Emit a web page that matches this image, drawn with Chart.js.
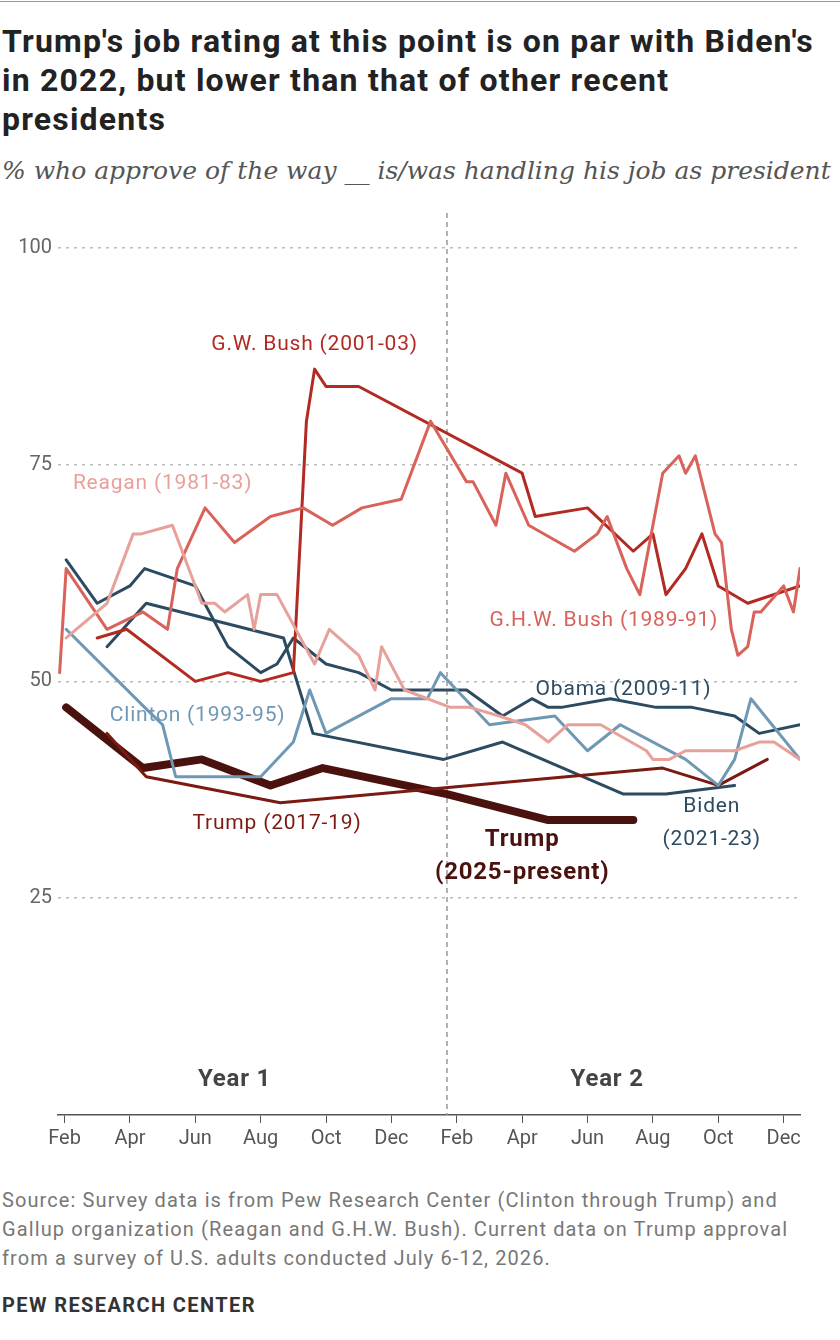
<!DOCTYPE html>
<html lang="en">
<head>
<meta charset="UTF-8">
<title>Presidential job approval</title>
<script src="https://cdn.jsdelivr.net/npm/chart.js"></script>
<style>
  body { margin: 0; background: #fff; font-family: Roboto, "Liberation Sans", sans-serif; width: 840px; height: 1340px; position: relative; overflow: hidden; }
  .rule { position: absolute; top: 1px; left: 0; width: 840px; border-top: 1px solid #999; }
  h1 { position: absolute; top: 22px; left: 2px; margin: 0; font-size: 32px; letter-spacing: 1.2px; line-height: 39px; font-weight: 700; color: #222; white-space: nowrap; }
  .sub { position: absolute; top: 156px; left: 2px; font-family: "DejaVu Serif", serif; font-style: italic; font-size: 25px; color: #555; white-space: nowrap; }
  #wrap { position: absolute; top: 195px; left: 0; width: 840px; height: 970px; }
  .src { position: absolute; top: 1186px; left: 2px; font-size: 20px; letter-spacing: 1.1px; line-height: 29px; color: #777; white-space: nowrap; }
  .pew { position: absolute; top: 1293px; left: 2px; font-size: 20px; font-weight: 700; color: #333; letter-spacing: 1.4px; }
</style>
</head>
<body>
<div class="rule"></div>
<h1>Trump's job rating at this point is on par with Biden's<br>in 2022, but lower than that of other recent<br>presidents</h1>
<div class="sub">% who approve of the way __ is/was handling his job as president</div>
<div id="wrap"><canvas id="chart"></canvas></div>
<div class="src">Source: Survey data is from Pew Research Center (Clinton through Trump) and<br>Gallup organization (Reagan and G.H.W. Bush). Current data on Trump approval<br>from a survey of U.S. adults conducted July 6-12, 2026.</div>
<div class="pew">PEW RESEARCH CENTER</div>
<script>
// x = months since February of year 1
const monthLabels = ['Feb', 'Apr', 'Jun', 'Aug', 'Oct', 'Dec', 'Feb', 'Apr', 'Jun', 'Aug', 'Oct', 'Dec'];
const yTicks = [25, 50, 75, 100];

const reaganX = [0.05, 1.3, 2.1, 2.35, 3.3, 4.2, 4.6, 4.9, 5.6, 5.8, 6.0, 6.5, 7.65, 8.1, 9.0, 9.5, 9.7, 10.4, 11.8, 12.4, 13.3, 14.1, 14.8, 15.4, 16.4, 17.8, 18.0, 18.5, 19.0, 20.5, 21.25, 21.7, 22.5];
const reaganY = [55, 59, 67, 67, 68, 59, 59, 58, 60, 56, 60, 60, 52, 56, 53, 49, 54, 49, 47, 47, 46, 45, 43, 45, 45, 42, 41, 41, 42, 42, 43, 43, 41];

const ghwBushX = [-0.15, 0.05, 1.3, 2.4, 3.15, 3.45, 4.3, 5.2, 6.3, 7.3, 8.2, 9.1, 10.3, 11.2, 12.3, 12.5, 13.2, 13.5, 14.2, 15.6, 16.3, 16.6, 17.2, 17.6, 18.3, 18.8, 19.0, 19.3, 19.9, 20.1, 20.4, 20.6, 20.9, 21.1, 21.3, 22.0, 22.3, 22.5];
const ghwBushY = [51, 63, 56, 58, 56, 63, 70, 66, 69, 70, 68, 70, 71, 80, 73, 73, 68, 74, 68, 65, 67, 69, 63, 60, 74, 76, 74, 76, 67, 66, 56, 53, 54, 58, 58, 61, 58, 63];

const clintonX = [0.05, 2.45, 3.0, 3.4, 6.0, 7.0, 7.5, 8.0, 10.0, 11.1, 11.5, 13.0, 15.0, 16.0, 17.0, 19.0, 20.0, 20.5, 21.0, 22.5];
const clintonY = [56, 47, 45, 39, 39, 43, 49, 44, 48, 48, 51, 45, 46, 42, 45, 41, 38, 41, 48, 41];

const gwBushX = [1.0, 1.9, 4.0, 5.0, 6.0, 7.0, 7.4, 7.65, 8.0, 9.0, 14.0, 14.4, 16.0, 17.4, 18.0, 18.4, 19.0, 19.5, 20.0, 20.9, 22.5];
const gwBushY = [55, 56, 50, 51, 50, 51, 80, 86, 84, 84, 74, 69, 70, 65, 67, 60, 63, 67, 61, 59, 61];

const obamaX = [0.05, 1.0, 2.0, 2.45, 4.0, 5.0, 6.0, 6.5, 7.0, 8.0, 9.0, 10.0, 12.3, 13.4, 14.3, 14.8, 15.2, 16.7, 18.1, 19.2, 20.5, 21.25, 22.5];
const obamaY = [64, 59, 61, 63, 61, 54, 51, 52, 55, 52, 51, 49, 49, 46, 48, 47, 47, 48, 47, 47, 46, 44, 45];

const trump1X = [1.3, 2.5, 6.6, 18.3, 20.0, 21.5];
const trump1Y = [44, 39, 36, 40, 38, 41];

const bidenX = [1.3, 2.5, 6.7, 7.6, 11.6, 13.4, 17.1, 18.4, 20.5];
const bidenY = [54, 59, 55, 44, 41, 43, 37, 37, 38];

const trump2X = [0.05, 2.4, 4.2, 6.3, 7.9, 11.7, 14.8, 17.4];
const trump2Y = [47, 40, 41, 38, 40, 37, 34, 34];

const pts = (xs, ys) => xs.map((x, i) => ({ x: x, y: ys[i] }));
const line = (label, xs, ys, color, width) => ({
  label: label, data: pts(xs, ys), borderColor: color, borderWidth: width,
  pointRadius: 0, fill: false, tension: 0, borderCapStyle: 'round', borderJoinStyle: 'round'
});

// labels placed in data units
const notes = [
  { t: 'G.W. Bush (2001-03)', x: 7.65, y: 88.8, c: '#b22a22' },
  { t: 'Reagan (1981-83)', x: 3.0, y: 72.8, c: '#e8a09a' },
  { t: 'G.H.W. Bush (1989-91)', x: 16.5, y: 57, c: '#d9625a' },
  { t: 'Obama (2009-11)', x: 17.1, y: 49, c: '#2c4b60' },
  { t: 'Clinton (1993-95)', x: 4.07, y: 46, c: '#6f98b5' },
  { t: 'Trump (2017-19)', x: 6.5, y: 33.6, c: '#7a1a12' },
  { t: 'Biden', x: 19.8, y: 35.5, c: '#2c4b60' },
  { t: '(2021-23)', x: 19.8, y: 31.7, c: '#2c4b60' },
  { t: 'Trump', x: 14.0, y: 31.7, c: '#4a120e', b: true, s: 24 },
  { t: '(2025-present)', x: 14.0, y: 27.9, c: '#4a120e', b: true, s: 24 },
  { t: 'Year 1', x: 5.2, y: 4.0, c: '#444', b: true, s: 24 },
  { t: 'Year 2', x: 16.6, y: 4.0, c: '#444', b: true, s: 24 }
];

const notesPlugin = {
  id: 'notes',
  beforeDatasetsDraw(chart) {
    const { ctx, scales: { x }, chartArea } = chart;
    const px = x.getPixelForValue(11.7);
    ctx.save();
    ctx.strokeStyle = '#999';
    ctx.lineWidth = 1.5;
    ctx.setLineDash([5, 4]);
    ctx.beginPath();
    ctx.moveTo(px, chartArea.top);
    ctx.lineTo(px, chartArea.bottom);
    ctx.stroke();
    ctx.restore();
  },
  afterDatasetsDraw(chart) {
    const { ctx, scales: { x, y } } = chart;
    ctx.save();
    ctx.textAlign = 'center';
    ctx.textBaseline = 'middle';
    ctx.letterSpacing = '0.8px';
    notes.forEach(n => {
      ctx.font = (n.b ? 'bold ' : '') + (n.s || 21) + 'px Roboto, "Liberation Sans", sans-serif';
      ctx.fillStyle = n.c;
      ctx.fillText(n.t, x.getPixelForValue(n.x), y.getPixelForValue(n.y));
    });
    ctx.restore();
  }
};

new Chart(document.getElementById('chart'), {
  type: 'line',
  data: {
    datasets: [
      line('Reagan', reaganX, reaganY, '#e8a09a', 3),
      line('G.H.W. Bush', ghwBushX, ghwBushY, '#d9625a', 3),
      line('Clinton', clintonX, clintonY, '#6f98b5', 3),
      line('G.W. Bush', gwBushX, gwBushY, '#b22a22', 3),
      line('Obama', obamaX, obamaY, '#2c4b60', 3),
      line('Trump 2017', trump1X, trump1Y, '#7a1a12', 3),
      line('Biden', bidenX, bidenY, '#2c4b60', 3),
      line('Trump 2025', trump2X, trump2Y, '#4a120e', 8)
    ]
  },
  options: {
    responsive: true,
    maintainAspectRatio: false,
    animation: false,
    layout: { padding: { top: 5, right: 40, left: 0, bottom: 0 } },
    plugins: { legend: { display: false }, tooltip: { enabled: false } },
    scales: {
      x: {
        type: 'linear', min: -0.2, max: 22.5,
        afterBuildTicks: s => { s.ticks = monthLabels.map((m, i) => ({ value: i * 2 })); },
        afterFit: s => { s.height = 50; },
        ticks: {
          callback: (v, i) => monthLabels[i], autoSkip: false, maxRotation: 0,
          color: '#555', font: { size: 20, family: 'Roboto' }, padding: 4
        },
        grid: { drawOnChartArea: false, drawTicks: true, tickLength: 8, color: '#555' },
        border: { display: true, color: '#555', width: 1.5 }
      },
      y: {
        min: 0, max: 104,
        afterBuildTicks: s => { s.ticks = yTicks.map(v => ({ value: v })); },
        afterFit: s => { s.width = 58; },
        ticks: { color: '#666', font: { size: 20, family: 'Roboto' }, padding: 6 },
        grid: { color: '#bbb', lineWidth: 1.5, drawTicks: false },
        border: { display: false, dash: [3, 5] }
      }
    }
  },
  plugins: [notesPlugin]
});
</script>
</body>
</html>
